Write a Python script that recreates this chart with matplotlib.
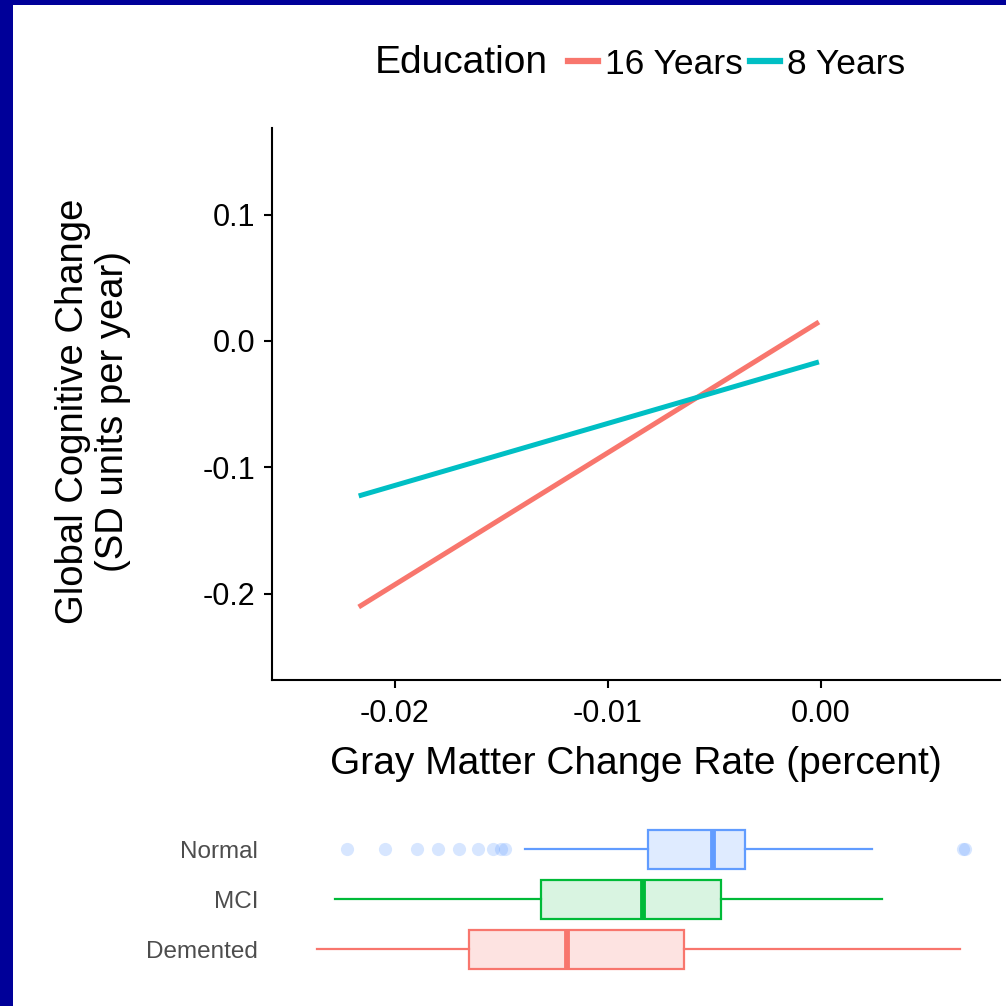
import matplotlib
matplotlib.use("Agg")
import matplotlib.pyplot as plt
from matplotlib.patches import Rectangle
from matplotlib.lines import Line2D

plt.rcParams['font.family'] = ['Liberation Sans', 'DejaVu Sans']

# Regression lines: gray matter change rate vs. cognitive change, by education
gm_rate = [-0.0217, -0.0001]
edu_labels = ["16 Years", "8 Years"]
edu_colors = ["#F8766D", "#00BFC4"]
cog_16 = [-0.2106, 0.0150]
cog_8 = [-0.1227, -0.0166]

x_ticks = [-0.02, -0.01, 0.00]
x_ticklabels = ["-0.02", "-0.01", "0.00"]
y_ticks = [0.1, 0.0, -0.1, -0.2]
y_ticklabels = ["0.1", "0.0", "-0.1", "-0.2"]

# Distribution of gray matter change rate by diagnosis
groups = ["Normal", "MCI", "Demented"]
group_colors = ["#619CFF", "#00BA38", "#F8766D"]
group_fill_alpha = [0.2, 0.15, 0.2]
whislo = [-0.01390, -0.02282, -0.02366]
q1 = [-0.00812, -0.01315, -0.01653]
med = [-0.00507, -0.00836, -0.01192]
q3 = [-0.00357, -0.00469, -0.00643]
whishi = [0.00239, 0.00286, 0.00653]
fliers_normal = [-0.02225, -0.02047, -0.01897, -0.01798, -0.01700, -0.01610,
                 -0.01540, -0.01502, -0.01484, 0.00667, 0.00676]

W = H = 1006
fig = plt.figure(figsize=(W / 100, H / 100), dpi=100)
fig.patch.set_facecolor("white")

# frame strips
border = "#000099"
fig.patches.append(Rectangle((0, 0), 13 / W, 1, transform=fig.transFigure,
                             facecolor=border, edgecolor="none", zorder=0))
fig.patches.append(Rectangle((0, 1 - 5 / H), 1, 5 / H, transform=fig.transFigure,
                             facecolor=border, edgecolor="none", zorder=0))

xlim = (-0.02577, 0.00840)

# main panel
ax = fig.add_axes([272 / W, 1 - 680 / H, 728 / W, 552 / H])
ax.plot(gm_rate, cog_16, color=edu_colors[0], lw=3.6, solid_capstyle="butt")
ax.plot(gm_rate, cog_8, color=edu_colors[1], lw=3.6, solid_capstyle="butt")
ax.set_xlim(*xlim)
ax.set_ylim(-0.2684, 0.1686)
ax.set_xticks(x_ticks)
ax.set_xticklabels(x_ticklabels)
ax.set_yticks(y_ticks)
ax.set_yticklabels(y_ticklabels)
for s in ["top", "right"]:
    ax.spines[s].set_visible(False)
for s in ["left", "bottom"]:
    ax.spines[s].set_linewidth(1.5)
ax.tick_params(axis="both", length=6, width=1.5, labelsize=22, pad=6, colors="black")
ax.tick_params(axis="x", pad=8)
ax.set_xlabel("Gray Matter Change Rate (percent)", fontsize=28, labelpad=12)
ax.set_ylabel("Global Cognitive Change\n(SD units per year)", fontsize=27.5,
              linespacing=1.15)
ax.yaxis.set_label_coords(-0.194, 0.487)

# legend
fig.text(375 / W, 1 - 63 / H, "Education", fontsize=28, va="center", ha="left")
handles = [Line2D([], [], color=c, lw=4.5) for c in edu_colors]
fig.legend(handles, edu_labels, loc="center left",
           bbox_to_anchor=(568 / W, 1 - 64 / H), ncol=2, frameon=False,
           fontsize=25.5, handlelength=0.85, handletextpad=0.2, columnspacing=0.2,
           borderpad=0, borderaxespad=0)

# lower panel: box plots
bx = fig.add_axes([272 / W, 1 - 974 / H, 728 / W, 150 / H])
positions = [3, 2, 1]
for i, g in enumerate(groups):
    c = group_colors[i]
    st = dict(label=g, whislo=whislo[i], q1=q1[i], med=med[i], q3=q3[i],
              whishi=whishi[i], fliers=fliers_normal if g == "Normal" else [])
    bp = bx.bxp([st], positions=[positions[i]], vert=False, widths=0.78,
                patch_artist=True, showcaps=False,
                boxprops=dict(facecolor=c, edgecolor=c, linewidth=1.6),
                whiskerprops=dict(color=c, linewidth=1.6),
                medianprops=dict(color=c, linewidth=4.2),
                flierprops=dict(marker="o", markersize=9.5, markerfacecolor=c,
                                markeredgecolor="none", alpha=0.25))
    for b in bp["boxes"]:
        b.set_facecolor(matplotlib.colors.to_rgba(c, group_fill_alpha[i]))
bx.set_xlim(*xlim)
bx.set_ylim(0.5, 3.5)
bx.set_yticks(positions)
bx.set_yticklabels(groups)
bx.set_xticks([])
bx.tick_params(axis="y", length=0, labelsize=17.5, pad=10, labelcolor="#4D4D4D")
for s in bx.spines.values():
    s.set_visible(False)
bx.patch.set_alpha(0)

fig.savefig("out.png", dpi=100, facecolor="white")
